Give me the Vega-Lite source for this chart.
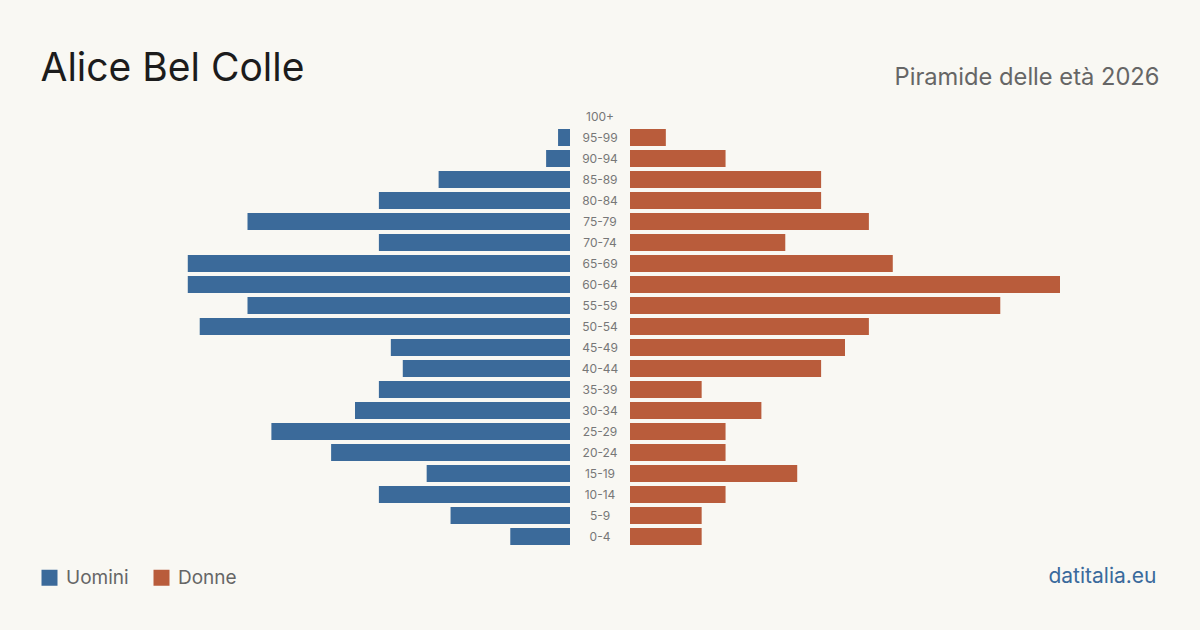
{
  "$schema": "https://vega.github.io/schema/vega-lite/v6.json",
  "width": 1120,
  "height": 441,
  "autosize": {"type": "none"},
  "padding": {"left": 40, "top": 106, "right": 40, "bottom": 83},
  "background": "#f9f8f3",
  "config": {
    "view": {"stroke": null},
    "font": "Inter",
    "axis": {"grid": false, "labels": false, "ticks": false, "domain": false}
  },
  "data": {
    "values": [
      {"age": "0-4", "sex": "Uomini", "value": 5},
      {"age": "5-9", "sex": "Uomini", "value": 10},
      {"age": "10-14", "sex": "Uomini", "value": 16},
      {"age": "15-19", "sex": "Uomini", "value": 12},
      {"age": "20-24", "sex": "Uomini", "value": 20},
      {"age": "25-29", "sex": "Uomini", "value": 25},
      {"age": "30-34", "sex": "Uomini", "value": 18},
      {"age": "35-39", "sex": "Uomini", "value": 16},
      {"age": "40-44", "sex": "Uomini", "value": 14},
      {"age": "45-49", "sex": "Uomini", "value": 15},
      {"age": "50-54", "sex": "Uomini", "value": 31},
      {"age": "55-59", "sex": "Uomini", "value": 27},
      {"age": "60-64", "sex": "Uomini", "value": 32},
      {"age": "65-69", "sex": "Uomini", "value": 32},
      {"age": "70-74", "sex": "Uomini", "value": 16},
      {"age": "75-79", "sex": "Uomini", "value": 27},
      {"age": "80-84", "sex": "Uomini", "value": 16},
      {"age": "85-89", "sex": "Uomini", "value": 11},
      {"age": "90-94", "sex": "Uomini", "value": 2},
      {"age": "95-99", "sex": "Uomini", "value": 1},
      {"age": "100+", "sex": "Uomini", "value": 0},
      {"age": "0-4", "sex": "Donne", "value": 6},
      {"age": "5-9", "sex": "Donne", "value": 6},
      {"age": "10-14", "sex": "Donne", "value": 8},
      {"age": "15-19", "sex": "Donne", "value": 14},
      {"age": "20-24", "sex": "Donne", "value": 8},
      {"age": "25-29", "sex": "Donne", "value": 8},
      {"age": "30-34", "sex": "Donne", "value": 11},
      {"age": "35-39", "sex": "Donne", "value": 6},
      {"age": "40-44", "sex": "Donne", "value": 16},
      {"age": "45-49", "sex": "Donne", "value": 18},
      {"age": "50-54", "sex": "Donne", "value": 20},
      {"age": "55-59", "sex": "Donne", "value": 31},
      {"age": "60-64", "sex": "Donne", "value": 36},
      {"age": "65-69", "sex": "Donne", "value": 22},
      {"age": "70-74", "sex": "Donne", "value": 13},
      {"age": "75-79", "sex": "Donne", "value": 20},
      {"age": "80-84", "sex": "Donne", "value": 16},
      {"age": "85-89", "sex": "Donne", "value": 16},
      {"age": "90-94", "sex": "Donne", "value": 8},
      {"age": "95-99", "sex": "Donne", "value": 3},
      {"age": "100+", "sex": "Donne", "value": 0}
    ]
  },
  "encoding": {
    "y": {
      "field": "age",
      "type": "nominal",
      "sort": ["100+", "95-99", "90-94", "85-89", "80-84", "75-79", "70-74", "65-69", "60-64", "55-59", "50-54", "45-49", "40-44", "35-39", "30-34", "25-29", "20-24", "15-19", "10-14", "5-9", "0-4"],
      "scale": {"paddingInner": 0.19, "paddingOuter": 0.095},
      "axis": {
        "title": "Alice Bel Colle",
        "titleAngle": 0,
        "titleX": 0,
        "titleY": -26,
        "titleAlign": "left",
        "titleBaseline": "alphabetic",
        "titleFontSize": 39,
        "titleFontWeight": "normal",
        "titleColor": "#1c1c1c",
        "titleFont": "Inter"
      }
    }
  },
  "layer": [
    {
      "transform": [{"filter": "datum.sex === 'Uomini'"}],
      "mark": {"type": "bar"},
      "encoding": {
        "x": {
          "field": "value",
          "type": "quantitative",
          "scale": {"domain": [0, 36], "range": [530, 100], "nice": false, "zero": true},
          "axis": {
            "orient": "bottom",
            "title": "datitalia.eu",
            "titleX": 1116,
            "titleY": 35,
            "titleAlign": "right",
            "titleBaseline": "alphabetic",
            "titleFontSize": 21,
            "titleFontWeight": "normal",
            "titleColor": "#3a6a9c",
            "titleFont": "Inter"
          }
        },
        "color": {
          "field": "sex",
          "type": "nominal",
          "scale": {"domain": ["Uomini", "Donne"], "range": ["#3b6a9a", "#b95c3b"]},
          "legend": {
            "orient": "none",
            "legendX": 0,
            "legendY": 462,
            "direction": "horizontal",
            "title": null,
            "symbolType": "square",
            "symbolSize": 256,
            "symbolStrokeWidth": 0,
            "symbolOpacity": 1,
            "labelFontSize": 19,
            "labelColor": "#666666",
            "labelFont": "Inter",
            "labelOffset": 7,
            "columnPadding": 23
          }
        }
      }
    },
    {
      "transform": [{"filter": "datum.sex === 'Donne'"}],
      "mark": {"type": "bar"},
      "encoding": {
        "x": {
          "field": "value",
          "type": "quantitative",
          "scale": {"domain": [0, 36], "range": [590, 1020], "nice": false, "zero": true},
          "axis": {
            "orient": "top",
            "title": "Piramide delle età 2026",
            "titleX": 1119,
            "titleY": -22,
            "titleAlign": "right",
            "titleBaseline": "alphabetic",
            "titleFontSize": 23.7,
            "titleFontWeight": "normal",
            "titleColor": "#666666",
            "titleFont": "Inter",
            "titleLimit": 400
          }
        },
        "color": {"field": "sex", "type": "nominal"}
      }
    },
    {
      "transform": [{"filter": "datum.sex === 'Donne'"}],
      "mark": {"type": "text", "fontSize": 12, "color": "#777777", "align": "center", "baseline": "middle"},
      "encoding": {
        "x": {"datum": 0, "type": "quantitative", "scale": {"domain": [-1, 1], "nice": false}, "axis": null},
        "text": {"field": "age", "type": "nominal"}
      }
    }
  ],
  "resolve": {"scale": {"x": "independent"}, "axis": {"x": "independent"}}
}
